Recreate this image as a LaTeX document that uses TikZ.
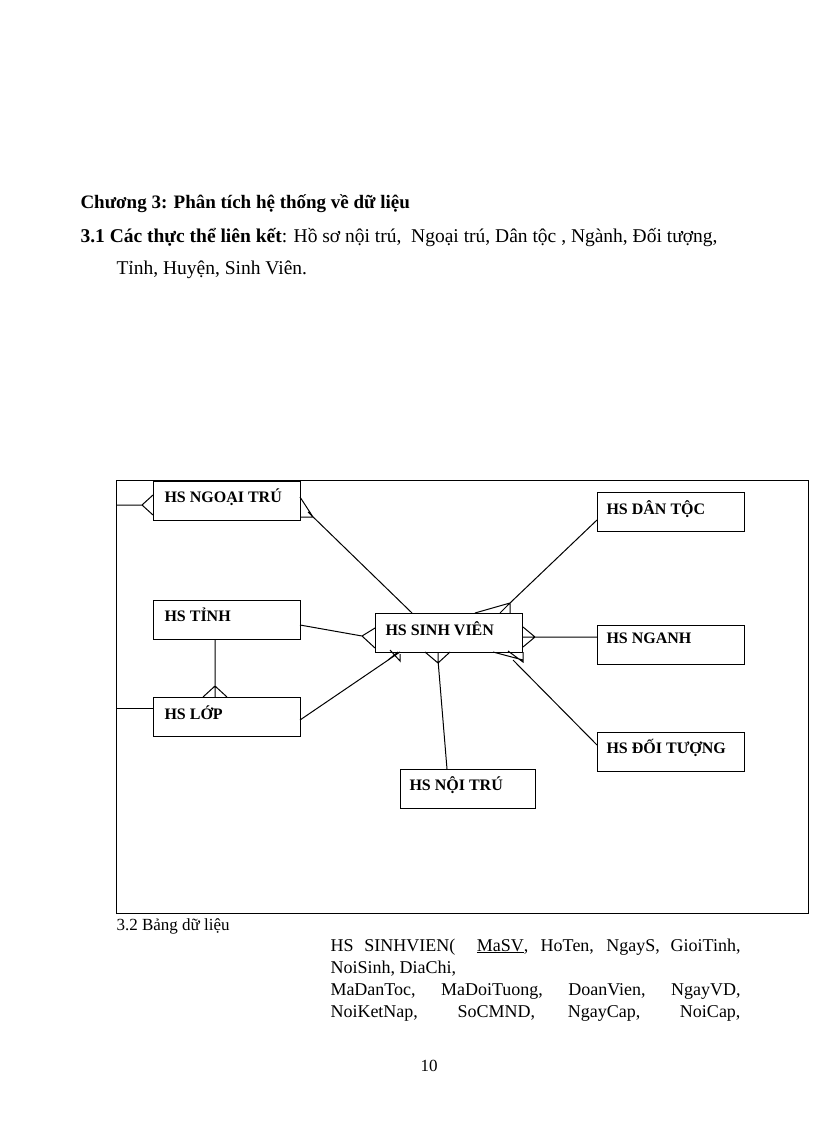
\documentclass[tikz,border=0pt]{standalone}
\usepackage{fontspec}
\setmainfont{Liberation Serif}
\begin{document}
\begin{tikzpicture}[x=1pt,y=-1pt,line width=1pt,
  ent/.style={draw,minimum width=147pt,minimum height=39pt,anchor=north west,inner sep=0pt},
  lbl/.style={font=\bfseries\fontsize{16}{18}\selectfont,anchor=north west,inner sep=0pt},
  txt/.style={font=\fontsize{18}{20}\selectfont,anchor=base west,inner sep=0pt}]
\path[use as bounding box,fill=white] (0,0) rectangle (816,1123);
\node[txt,font=\bfseries\fontsize{19}{21}\selectfont] (h1) at (80,209) {Chương 3: Phân tích hệ thống về dữ liệu};
\node[txt,font=\fontsize{19.5}{21}\selectfont] (h2) at (80,242) {\textbf{3.1 Các thực thể liên kết}: Hồ sơ nội trú,\ \ Ngoại trú, Dân tộc , Ngành, Đối tượng,};
\node[txt,font=\fontsize{19.5}{21}\selectfont] (h3) at (116,274) {Tỉnh, Huyện, Sinh Viên.};
\draw (116,480) rectangle (808,913);
\node[ent] (nt) at (153,481) {}; \node[lbl] at (164,488) {HS NGOẠI TRÚ};
\node[ent] (dt) at (597,492) {}; \node[lbl] at (606,500) {HS DÂN TỘC};
\node[ent] (ti) at (153,600) {}; \node[lbl] at (164,607) {HS TỈNH};
\node[ent] (sv) at (375,613) {}; \node[lbl] at (385,621) {HS SINH VIÊN};
\node[ent] (ng) at (597,625) {}; \node[lbl] at (606,632) {HS NGANH};
\node[ent] (lo) at (153,697) {}; \node[lbl] at (164,705) {HS LỚP};
\node[ent] (do) at (597,732) {}; \node[lbl] at (606,739) {HS ĐỐI TƯỢNG};
\node[ent,minimum width=135pt] (no) at (400,769) {}; \node[lbl] at (409,776) {HS NỘI TRÚ};
\draw (116,505) -- (142,505) (153,495) -- (142,505) -- (153,515);
\draw (116,708) -- (153,708);
\draw (300,497) -- (313,517) -- (300,517) (308,512) -- (412,613);
\draw (300,625) -- (362,636) (375,628) -- (362,636) -- (375,648);
\draw (215,639) -- (215,697) (203,697) -- (215,686) -- (227,697);
\draw (300,720) -- (400,652) (390,650) -- (400,661) -- (400,654) (388,660) -- (398,652);
\draw (510,603) -- (597,520) (475,613) -- (510,603) (500,613) -- (510,603) -- (510,613);
\draw (523,637) -- (597,637) (523,627) -- (535,637) -- (523,647);
\draw (513,660) -- (597,745) (493,652) -- (523,660) (508,651) -- (523,662) -- (523,652);
\draw (438,660) -- (447,769) (425,652) -- (438,663) -- (450,652) (438,660) -- (438,652);
\node[txt,font=\fontsize{17}{19}\selectfont] (b) at (116,930) {3.2 Bảng dữ liệu};
\node[txt] (t1) at (330,951) {\makebox[410pt][s]{HS SINHVIEN(\ \ \underline{MaSV}, HoTen, NgayS, GioiTinh,}};
\node[txt] (t2) at (330,973) {NoiSinh, DiaChi,};
\node[txt] (t3) at (330,995) {\makebox[410pt][s]{MaDanToc, MaDoiTuong, DoanVien, NgayVD,}};
\node[txt] (t4) at (330,1017) {\makebox[410pt][s]{NoiKetNap, SoCMND, NgayCap, NoiCap,}};
\node[txt,font=\fontsize{17}{19}\selectfont] (pg) at (420,1071) {10};
\end{tikzpicture}
\end{document}
